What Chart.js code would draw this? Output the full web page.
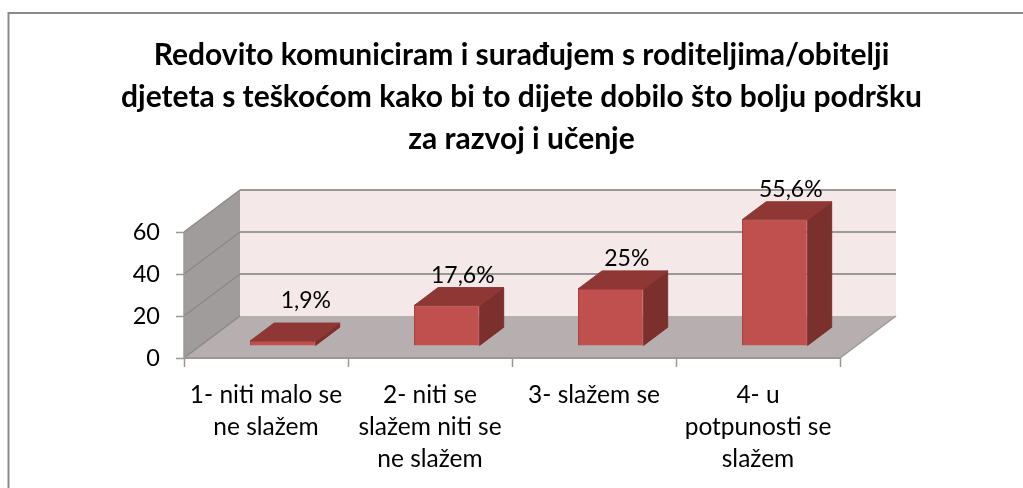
<!DOCTYPE html>
<html lang="hr">
<head>
    <meta charset="UTF-8">
    <title>Redovito komuniciram i surađujem</title>
    <script src="https://cdn.jsdelivr.net/npm/chart.js"></script>
    <style>
        html, body { margin: 0; padding: 0; background: #fff; }
        #wrap { position: relative; width: 1023px; height: 488px; }
    </style>
</head>
<body>
    <div id="wrap"><canvas id="chart" width="1023" height="488"></canvas></div>

    <script>
        const categories = [
            ["1- niti malo se", "ne slažem"],
            ["2- niti se", "slažem niti se", "ne slažem"],
            ["3- slažem se"],
            ["4- u", "potpunosti se", "slažem"],
        ];
        const values = [1.9, 17.6, 25, 55.6];
        const valueLabels = ["1,9%", "17,6%", "25%", "55,6%"];
        const titleLines = [
            "Redovito komuniciram i surađujem s roditeljima/obitelji",
            "djeteta s teškoćom kako bi to dijete dobilo što bolju podršku",
            "za razvoj i učenje",
        ];

        const FONT = "Lato, 'Open Sans', sans-serif";
        const GREY = "#9c9898";

        function poly(ctx, pts, fill, stroke, lw) {
            ctx.beginPath();
            pts.forEach((p, i) => (i === 0 ? ctx.moveTo(p[0], p[1]) : ctx.lineTo(p[0], p[1])));
            ctx.closePath();
            if (fill) {
                ctx.fillStyle = fill;
                ctx.fill();
            }
            if (stroke) {
                ctx.strokeStyle = stroke;
                ctx.lineWidth = lw || 1;
                ctx.stroke();
            }
        }

        function line(ctx, x1, y1, x2, y2, color, lw) {
            ctx.beginPath();
            ctx.moveTo(x1, y1);
            ctx.lineTo(x2, y2);
            ctx.strokeStyle = color;
            ctx.lineWidth = lw;
            ctx.stroke();
        }

        // depth of the floor in pixels: one axis step up, and a bit to the right
        function wallDepth(chart) {
            const y = chart.scales.y;
            return { dx: 56, dy: y.getPixelForValue(20) - y.getPixelForValue(0) };
        }

        const box3d = {
            id: "box3d",
            beforeDatasetsDraw(chart) {
                const ctx = chart.ctx;
                const { left, right } = chart.chartArea;
                const y = chart.scales.y;
                const { dx, dy } = wallDepth(chart);
                const y0 = y.getPixelForValue(0);
                const yMax = y.getPixelForValue(60);

                ctx.save();
                poly(ctx, [[left + dx, yMax + dy], [right + dx, yMax + dy], [right + dx, y0 + dy], [left + dx, y0 + dy]], "#f4e8e8");
                poly(ctx, [[left, yMax], [left + dx, yMax + dy], [left + dx, y0 + dy], [left, y0]], "#a09c9c");
                poly(ctx, [[left, y0], [left + dx, y0 + dy], [right + dx, y0 + dy], [right, y0]], "#b7afaf");

                y.ticks.forEach((t) => {
                    const py = y.getPixelForValue(t.value);
                    line(ctx, left, py, left + dx, py + dy, "#8b8888", 1.5);
                    if (t.value > 0) line(ctx, left + dx, py + dy, right + dx, py + dy, GREY, 2);
                });
                line(ctx, right, y0, right + dx, y0 + dy, GREY, 1.5);
                line(ctx, left, yMax, left, y0, GREY, 1.5);
                line(ctx, left, y0, right, y0, GREY, 2);
                ctx.restore();
            },
            beforeDatasetDraw(chart, args) {
                const ctx = chart.ctx;
                const { dx, dy } = wallDepth(chart);
                ctx.save();
                // bars stand a little way back from the front edge of the floor
                ctx.translate(dx * 0.3, dy * 0.3);
                const bx = dx * 0.43;
                const by = dy * 0.43;
                args.meta.data.forEach((bar) => {
                    const l = bar.x - bar.width / 2;
                    const r = bar.x + bar.width / 2;
                    poly(ctx, [[r, bar.y], [r + bx, bar.y + by], [r + bx, bar.base + by], [r, bar.base]], "#7c302e", "#7c302e", 1);
                    poly(ctx, [[l, bar.y], [l + bx, bar.y + by], [r + bx, bar.y + by], [r, bar.y]], "#8f3735", "#8f3735", 1);
                });
            },
            afterDatasetDraw(chart) {
                chart.ctx.restore();
            },
            afterDatasetsDraw(chart) {
                const ctx = chart.ctx;
                const { dx, dy } = wallDepth(chart);
                ctx.save();
                ctx.font = "23px " + FONT;
                ctx.fillStyle = "#000";
                ctx.textAlign = "center";
                ctx.textBaseline = "middle";
                chart.getDatasetMeta(0).data.forEach((bar, i) => {
                    // the first label sits higher and further right in the original
                    const extraX = i === 0 ? 7 : 0;
                    const extraY = i === 0 ? -10 : 0;
                    ctx.fillText(valueLabels[i], bar.x + dx * 0.3 + 16 + extraX, bar.y + dy * 0.73 - 12 + extraY);
                });
                // chart frame, only top and left are inside the crop
                ctx.strokeStyle = "#8a8a8a";
                ctx.lineWidth = 2;
                ctx.beginPath();
                ctx.moveTo(8.5, 488);
                ctx.lineTo(8.5, 13);
                ctx.lineTo(1023, 13);
                ctx.stroke();
                ctx.restore();
            },
        };

        new Chart(document.getElementById("chart"), {
            type: "bar",
            plugins: [box3d],
            data: {
                labels: categories,
                datasets: [
                    {
                        data: values,
                        yAxisID: "yBars",
                        backgroundColor: "#c0504d",
                        borderColor: "#a8423f",
                        borderWidth: 1,
                        barPercentage: 0.4,
                        categoryPercentage: 1,
                        clip: false,
                    },
                ],
            },
            options: {
                responsive: false,
                animation: false,
                layout: { padding: { left: 20 } },
                plugins: {
                    legend: { display: false },
                    tooltip: { enabled: false },
                    title: {
                        display: true,
                        text: titleLines,
                        color: "#000",
                        align: "center",
                        font: { family: FONT, size: 30, weight: "bold", lineHeight: 1.4 },
                        padding: { top: 34, bottom: 72 },
                    },
                },
                scales: {
                    x: {
                        grid: { drawOnChartArea: false, tickLength: 9, tickColor: GREY, tickWidth: 1.5, offset: true },
                        border: { display: false },
                        ticks: { color: "#000", font: { family: FONT, size: 24.5, lineHeight: 1.306 }, maxRotation: 0, autoSkip: false, padding: 12 },
                        afterFit(scale) {
                            scale.height = 130;
                        },
                    },
                    y: {
                        min: 0,
                        max: 60,
                        grid: { drawOnChartArea: false, tickLength: 8, tickColor: GREY, tickWidth: 1.5 },
                        border: { display: false },
                        ticks: { stepSize: 20, color: "#000", font: { family: FONT, size: 23.5 }, padding: 16 },
                        afterFit(scale) {
                            scale.width = 164;
                        },
                    },
                    // the columns run slightly taller than the printed axis in the original,
                    // and this axis also holds the empty room to the right of the plot
                    yBars: {
                        position: "right",
                        min: 0,
                        max: 55.8,
                        grid: { display: false },
                        border: { display: false },
                        ticks: { display: false },
                        afterFit(scale) {
                            scale.width = 183;
                        },
                    },
                },
            },
        });
    </script>
</body>
</html>
